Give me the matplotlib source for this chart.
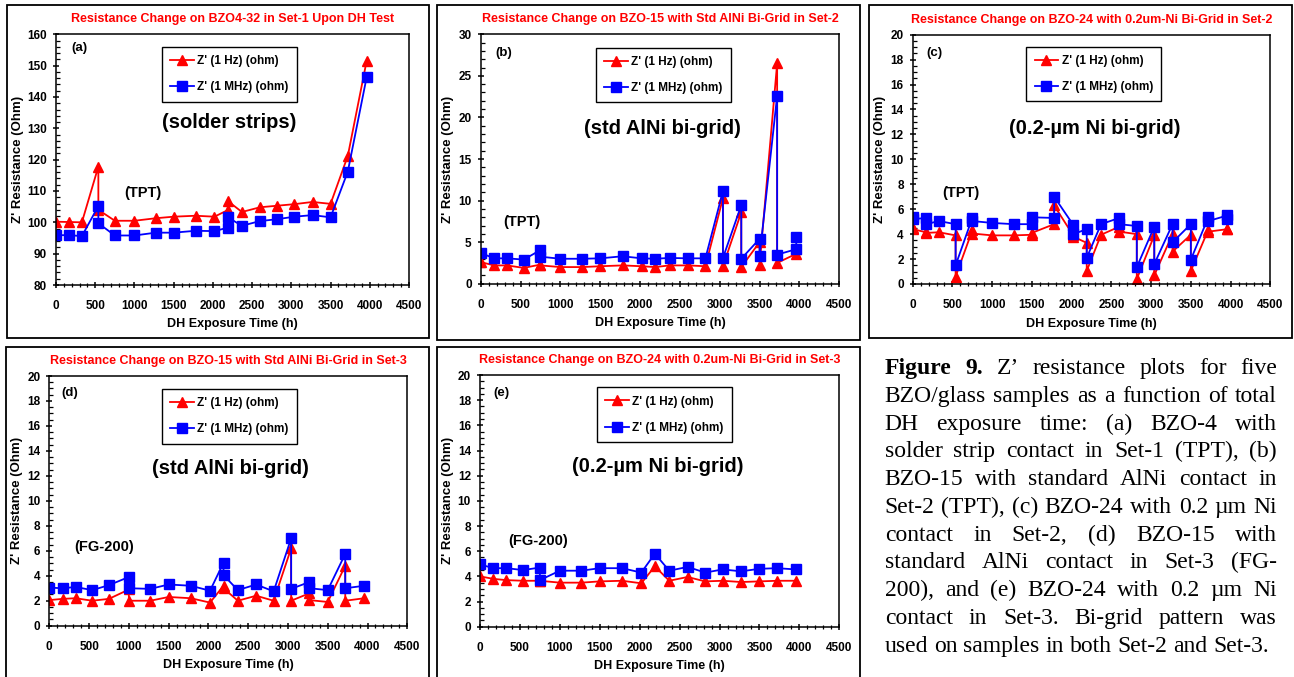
import matplotlib
matplotlib.use("Agg")
import matplotlib.pyplot as plt
from matplotlib.ticker import MultipleLocator
from matplotlib.patches import Rectangle

plt.rcParams['font.family'] = ['Liberation Sans', 'DejaVu Sans']

# ---------------- data ----------------
legend_labels = ["Z' (1 Hz) (ohm)", "Z' (1 MHz) (ohm)"]

a_time = [0, 168, 330, 540, 540, 750, 1000, 1270, 1500, 1780, 2020, 2190, 2190,
          2370, 2600, 2820, 3040, 3270, 3500, 3720, 3960]
a_1hz = [100.2, 100.1, 100.0, 117.8, 104.0, 100.5, 100.5, 101.3, 101.8, 102.1, 101.8,
         103.9, 106.8, 103.3, 104.8, 105.3, 105.8, 106.5, 105.9, 121.2, 151.5]
a_1mhz = [95.9, 95.9, 95.6, 105.2, 99.7, 95.8, 95.8, 96.7, 96.7, 97.3, 97.2,
          98.3, 101.6, 98.9, 100.4, 101.0, 101.8, 102.3, 101.6, 116.2, 146.3]

b_time = [0, 168, 330, 540, 750, 750, 1000, 1270, 1500, 1780, 2020, 2190, 2370, 2600,
          2820, 3040, 3040, 3270, 3270, 3500, 3500, 3720, 3720, 3960, 3960]
b_1hz = [2.6, 2.2, 2.2, 1.9, 2.3, 2.2, 2.0, 2.0, 2.1, 2.2, 2.1, 2.0, 2.2, 2.2,
         2.1, 10.3, 2.1, 8.6, 2.0, 5.0, 2.3, 26.5, 2.5, 3.6, 4.2]
b_1mhz = [3.7, 3.05, 3.05, 2.9, 4.05, 3.25, 3.0, 3.0, 3.05, 3.3, 3.05, 3.0, 3.1, 3.05,
          3.05, 11.15, 3.1, 9.45, 3.0, 5.4, 3.35, 22.6, 3.5, 4.15, 5.65]

c_time = [0, 0, 168, 168, 330, 540, 540, 750, 750, 1000, 1270, 1500, 1500, 1780, 1780,
          2020, 2020, 2190, 2190, 2370, 2600, 2600, 2820, 2820, 3040, 3040, 3270, 3270,
          3500, 3500, 3720, 3720, 3960, 3960]
c_1hz = [4.5, 4.4, 4.15, 4.1, 4.15, 3.9, 0.6, 4.3, 4.05, 3.9, 3.9, 3.95, 4.1, 4.8, 6.3,
         3.9, 3.8, 3.3, 1.05, 3.95, 4.6, 4.2, 4.0, 0.4, 3.9, 0.7, 4.0, 2.6,
         3.95, 1.05, 4.35, 4.2, 4.4, 4.4]
c_1mhz = [5.4, 5.2, 5.3, 4.8, 5.05, 4.8, 1.5, 5.3, 5.05, 4.9, 4.8, 4.8, 5.35, 5.3, 7.0,
          4.75, 4.0, 4.4, 2.1, 4.8, 5.3, 4.8, 4.65, 1.35, 4.6, 1.6, 4.8, 3.35,
          4.8, 1.95, 5.35, 5.05, 5.5, 5.2]

d_time = [0, 168, 330, 540, 750, 1000, 1000, 1270, 1500, 1780, 2020, 2190, 2190, 2370,
          2600, 2820, 3040, 3040, 3270, 3270, 3500, 3720, 3720, 3960]
d_1hz = [2.05, 2.15, 2.2, 2.0, 2.15, 2.9, 2.0, 2.0, 2.3, 2.2, 1.85, 3.2, 3.0, 2.0,
         2.4, 2.0, 6.2, 2.0, 2.6, 2.05, 1.9, 4.8, 2.0, 2.2]
d_1mhz = [3.05, 3.0, 3.1, 2.85, 3.25, 3.9, 3.0, 2.95, 3.3, 3.2, 2.8, 5.05, 4.05, 2.85,
          3.3, 2.75, 7.0, 2.95, 3.5, 3.0, 2.85, 5.75, 3.0, 3.2]

e_time = [0, 168, 330, 540, 750, 750, 1000, 1270, 1500, 1780, 2020, 2190, 2370, 2600,
          2820, 3040, 3270, 3500, 3720, 3960]
e_1hz = [4.0, 3.8, 3.7, 3.65, 3.65, 3.65, 3.5, 3.5, 3.6, 3.65, 3.45, 4.8, 3.65, 3.95,
         3.6, 3.65, 3.55, 3.6, 3.65, 3.65]
e_1mhz = [4.95, 4.65, 4.65, 4.5, 4.7, 3.7, 4.45, 4.45, 4.65, 4.65, 4.3, 5.8, 4.45, 4.75,
          4.3, 4.55, 4.4, 4.6, 4.65, 4.55]

titles = ["Resistance Change on BZO4-32 in Set-1 Upon DH Test",
          "Resistance Change on BZO-15 with Std AlNi Bi-Grid in Set-2",
          "Resistance Change on BZO-24 with 0.2um-Ni Bi-Grid in Set-2",
          "Resistance Change on BZO-15 with Std AlNi Bi-Grid in Set-3",
          "Resistance Change on BZO-24 with 0.2um-Ni Bi-Grid in Set-3"]
letters = ["(a)", "(b)", "(c)", "(d)", "(e)"]
contacts = ["(solder strips)", "(std AlNi bi-grid)", "(0.2-\u00b5m Ni bi-grid)",
            "(std AlNi bi-grid)", "(0.2-\u00b5m Ni bi-grid)"]
backsheets = ["(TPT)", "(TPT)", "(TPT)", "(FG-200)", "(FG-200)"]
xlabel = "DH Exposure Time (h)"
ylabel = "Z' Resistance (Ohm)"

caption_lines = [
    "Figure 9. Z\u2019 resistance plots for five",
    "BZO/glass samples as a function of total",
    "DH exposure time: (a) BZO-4 with",
    "solder strip contact in Set-1 (TPT), (b)",
    "BZO-15 with standard AlNi contact in",
    "Set-2 (TPT), (c) BZO-24 with 0.2 \u00b5m Ni",
    "contact in Set-2, (d) BZO-15 with",
    "standard AlNi contact in Set-3 (FG-",
    "200), and (e) BZO-24 with 0.2 \u00b5m Ni",
    "contact in Set-3. Bi-grid pattern was",
    "used on samples in both Set-2 and Set-3.",
]

# ---------------- layout ----------------
W, H = 1294, 677
fig = plt.figure(figsize=(W / 100, H / 100), dpi=100)

def fx(x):
    return x / W

def fy(y):
    return 1 - y / H

RED = '#FF0000'
BLUE = '#0000FF'

layout = [
    dict(frame=(7, 5, 429, 338), axes=(56, 34.3, 409, 285), ylim=(80, 160), ymaj=10, ymin=2,
         letter_xy=(79, 48), big_xy=(229, 123), small_xy=(143, 193), leg=(162, 47), ylab_r=24),
    dict(frame=(437, 4.5, 860, 340), axes=(480.7, 34.3, 839.3, 283.7), ylim=(0, 30), ymaj=5, ymin=1,
         letter_xy=(504, 53), big_xy=(662, 129), small_xy=(522, 221.7), leg=(595.7, 47.7), ylab_r=454),
    dict(frame=(868.7, 5, 1292, 338), axes=(912.7, 34.7, 1270.3, 284), ylim=(0, 20), ymaj=2, ymin=0.5,
         letter_xy=(934.7, 53.3), big_xy=(1094.3, 128.3), small_xy=(961, 193.3), leg=(1026.3, 46.7), ylab_r=886),
    dict(frame=(6, 347.3, 429, 690), axes=(49.3, 376, 407.3, 625.7), ylim=(0, 20), ymaj=2, ymin=0.5,
         letter_xy=(69.3, 393.3), big_xy=(230, 468.3), small_xy=(104.3, 546.7), leg=(161.7, 389), ylab_r=22.7),
    dict(frame=(437.3, 346.7, 860, 690), axes=(480, 375, 839.3, 626.7), ylim=(0, 20), ymaj=2, ymin=0.5,
         letter_xy=(501, 392.7), big_xy=(657.3, 466), small_xy=(538.3, 541), leg=(596.7, 387.3), ylab_r=454),
]
series = [(a_time, a_1hz, a_1mhz), (b_time, b_1hz, b_1mhz), (c_time, c_1hz, c_1mhz),
          (d_time, d_1hz, d_1mhz), (e_time, e_1hz, e_1mhz)]

for i, (lay, (t, r, b)) in enumerate(zip(layout, series)):
    l0, t0, r0, b0 = lay['frame']
    fig.add_artist(Rectangle((fx(l0), fy(b0)), (r0 - l0) / W, (b0 - t0) / H,
                             transform=fig.transFigure, fill=False, ec='black', lw=1.3))
    L, T, R, B = lay['axes']
    ax = fig.add_axes([fx(L), fy(B), (R - L) / W, (B - T) / H])
    ax.plot(t, r, color=RED, marker='^', ms=7, lw=1.3, mec=RED, mfc=RED, label=legend_labels[0])
    ax.plot(t, b, color=BLUE, marker='s', ms=6.5, lw=1.3, mec=BLUE, mfc=BLUE, label=legend_labels[1])
    ax.set_xlim(0, 4500)
    ax.set_ylim(*lay['ylim'])
    ax.xaxis.set_major_locator(MultipleLocator(500))
    ax.xaxis.set_minor_locator(MultipleLocator(100))
    ax.yaxis.set_major_locator(MultipleLocator(lay['ymaj']))
    ax.yaxis.set_minor_locator(MultipleLocator(lay['ymin']))
    ax.tick_params(which='major', direction='inout', length=5, width=1.1, labelsize=8.5)
    ax.tick_params(which='minor', direction='in', length=3, width=0.9)
    ax.tick_params(axis='x', which='minor', direction='inout', length=3.5)
    ax.tick_params(axis='x', which='major', pad=8.3)
    ax.tick_params(axis='y', which='major', pad=4.0)
    for lab in ax.get_xticklabels() + ax.get_yticklabels():
        lab.set_fontweight('bold')
    for sp in ax.spines.values():
        sp.set_linewidth(1.1)
    axh = B - T
    axw = R - L
    ax.set_xlabel(xlabel, fontsize=9, fontweight='bold')
    ax.xaxis.set_label_coords(0.5, -33.5 / axh)
    ax.set_ylabel(ylabel, fontsize=9.5, fontweight='bold')
    ax.yaxis.set_label_coords((lay['ylab_r'] - L) / axw, 0.5)
    ax.set_title(titles[i], color=RED, fontsize=9, fontweight='bold', pad=8.5)
    leg = ax.legend(loc='upper left', bbox_to_anchor=(fx(lay['leg'][0]), fy(lay['leg'][1])),
                    bbox_transform=fig.transFigure, borderaxespad=0, fancybox=False,
                    framealpha=1, edgecolor='black', prop=dict(size=8.5, weight='bold'),
                    handlelength=2.0, handletextpad=0.3, labelspacing=1.2, borderpad=0.7)
    leg.get_frame().set_linewidth(1.0)
    fig.text(fx(lay['letter_xy'][0]), fy(lay['letter_xy'][1]), letters[i], fontsize=9.5,
             fontweight='bold', ha='center', va='center')
    fig.text(fx(lay['big_xy'][0]), fy(lay['big_xy'][1]), contacts[i], fontsize=14.5,
             fontweight='bold', ha='center', va='center')
    fig.text(fx(lay['small_xy'][0]), fy(lay['small_xy'][1]), backsheets[i], fontsize=10.5,
             fontweight='bold', ha='center', va='center')

# ---------------- caption (justified) ----------------
renderer = fig.canvas.get_renderer()
CAP_L, CAP_R = 884.7, 1277.0
probe = fig.text(0, 0, caption_lines[-1], family='Liberation Serif', fontsize=10)
pw = probe.get_window_extent(renderer).width
probe.remove()
cap_size = 10 * 384.7 / pw
base0, step = 374.0, 27.77
for li, line in enumerate(caption_lines):
    words = line.split(' ')
    arts = []
    for wi, w in enumerate(words):
        weight = 'bold' if (li == 0 and wi < 2) else 'normal'
        arts.append(fig.text(0, fy(base0 + li * step), w, family='Liberation Serif',
                             fontsize=cap_size, fontweight=weight, ha='left', va='baseline'))
    widths = [a.get_window_extent(renderer).width for a in arts]
    if li < len(caption_lines) - 1 and len(words) > 1:
        gap = (CAP_R - CAP_L - sum(widths)) / (len(words) - 1)
    else:
        sp = fig.text(0, 0, 'a a', family='Liberation Serif', fontsize=cap_size)
        sp2 = fig.text(0, 0, 'aa', family='Liberation Serif', fontsize=cap_size)
        gap = sp.get_window_extent(renderer).width - sp2.get_window_extent(renderer).width
        sp.remove(); sp2.remove()
    x = CAP_L
    for a, w in zip(arts, widths):
        a.set_x(fx(x))
        x += w + gap

fig.savefig('out.png', dpi=100)
